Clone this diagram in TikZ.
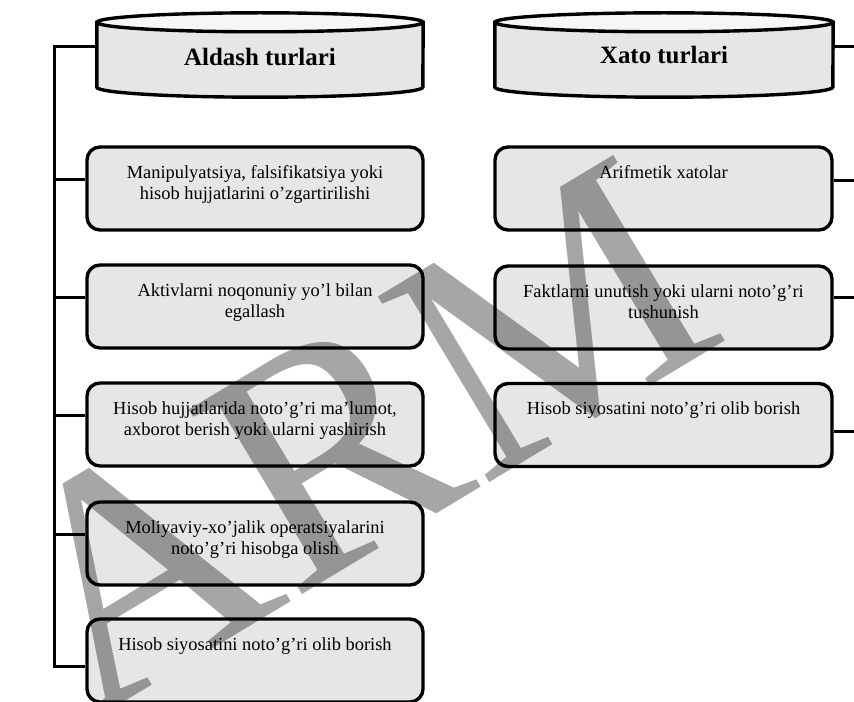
\documentclass[tikz,border=0pt]{standalone}
\usepackage{fontspec}
\setmainfont{Liberation Serif}
\usetikzlibrary{calc}
\definecolor{boxfill}{RGB}{230,230,230}
\definecolor{capfill}{RGB}{246,246,246}
\definecolor{wmark}{RGB}{166,166,166}
\begin{document}
\begin{tikzpicture}[x=1bp,y=-1bp,
  conn/.style={line width=3.2bp, draw=black},
  itembox/.style={draw=black, line width=3.4bp, fill=boxfill, rounded corners=13bp,
    minimum width=336bp, minimum height=83bp, inner sep=0pt},
  itemtext/.style={anchor=north, align=center, inner sep=0pt,
    font=\fontsize{18.5}{21.5}\selectfont},
  cylbody/.style={draw=black, line width=3.4bp, fill=boxfill},
  cylcap/.style={draw=black, line width=3.4bp, fill=capfill},
  cyltext/.style={inner sep=0pt, font=\bfseries\fontsize{25}{29}\selectfont},
  wm/.style={text=wmark, inner sep=0pt, font=\fontsize{332}{332}\selectfont},
]
\useasboundingbox (0,0) rectangle (854,702);

% cylinders
\node[minimum width=326bp, minimum height=64.5bp, inner sep=0pt] (cA) at (260,54.75) {};
\node[minimum width=338bp, minimum height=64.5bp, inner sep=0pt] (cB) at (664,54.75) {};
\path[cylbody] (cA.north west) -- (cA.south west) arc[start angle=180, end angle=360, x radius=163bp, y radius=10bp] -- (cA.north east) -- cycle;
\path[cylbody] (cB.north west) -- (cB.south west) arc[start angle=180, end angle=360, x radius=169bp, y radius=10bp] -- (cB.north east) -- cycle;
\path[cylcap] (cA.north) ellipse[x radius=163bp, y radius=9.5bp];
\path[cylcap] (cB.north) ellipse[x radius=169bp, y radius=9.5bp];
\node[cyltext] (cAt) at (260,57) {Aldash turlari};
\node[cyltext] (cBt) at (664,55) {Xato turlari};

% left boxes
\node[itembox] (b1) at (255,188.5) {};
\node[itembox] (b2) at (255,306.5) {};
\node[itembox] (b3) at (255,424.5) {};
\node[itembox] (b4) at (255,543.5) {};
\node[itembox] (b5) at (255,660.5) {};
% right boxes
\node[itembox, minimum width=337bp] (r1) at (663.5,188.5) {};
\node[itembox, minimum width=337bp] (r2) at (663.5,307.5) {};
\node[itembox, minimum width=337bp] (r3) at (663.5,425) {};

% connectors
\draw[conn] ($(cA.north west)+(0,24.5)$) -| ($(b5.north west)+(-31,49)$) -- ($(b5.north west)+(0,49)$);
\foreach \b in {b1,b2,b3,b4}{
  \draw[conn] ($(\b.north west)+(0,34)$) -- ++(-31,0);
}
\draw[conn] ($(cB.north east)+(0,24.5)$) -- ++(22,0);
\draw[conn] ($(r1.north east)+(0,35)$) -- ++(23,0);
\draw[conn] ($(r2.north east)+(0,33)$) -- ++(23,0);
\draw[conn] ($(r3.north east)+(0,50)$) -- ++(23,0);

% texts
\node[itemtext] (b1t) at ($(b1.north)+(0,20)$) {Manipulyatsiya, falsifikatsiya yoki\\hisob hujjatlarini o’zgartirilishi};
\node[itemtext] (b2t) at ($(b2.north)+(0,20)$) {Aktivlarni noqonuniy yo’l bilan\\egallash};
\node[itemtext] (b3t) at ($(b3.north)+(0,20)$) {Hisob hujjatlarida noto’g’ri ma’lumot,\\axborot berish yoki ularni yashirish};
\node[itemtext] (b4t) at ($(b4.north)+(0,20)$) {Moliyaviy-xo’jalik operatsiyalarini\\noto’g’ri hisobga olish};
\node[itemtext] (b5t) at ($(b5.north)+(0,20)$) {Hisob siyosatini noto’g’ri olib borish};
\node[itemtext] (r1t) at ($(r1.north)+(0,20)$) {Arifmetik xatolar};
\node[itemtext] (r2t) at ($(r2.north)+(0,20)$) {Faktlarni unutish yoki ularni noto’g’ri\\tushunish};
\node[itemtext] (r3t) at ($(r3.north)+(0,20)$) {Hisob siyosatini noto’g’ri olib borish};

% watermark
\begin{scope}[blend mode=multiply]
\node[wm, rotate=31, anchor=base west] (wmk) at (88,724) {ARM};
\end{scope}
\end{tikzpicture}
\end{document}
